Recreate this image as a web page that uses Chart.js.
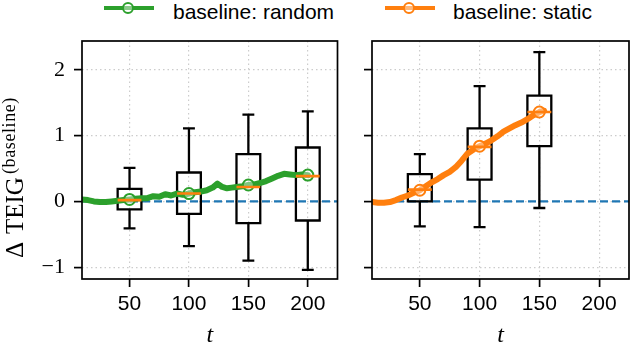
<!DOCTYPE html>
<html>
<head>
<meta charset="utf-8">
<script src="https://cdn.jsdelivr.net/npm/chart.js@4.4.0/dist/chart.umd.min.js"></script>
<style>
  body { margin: 0; background: #fff; width: 630px; height: 344px; overflow: hidden; position: relative; }
  canvas { position: absolute; top: 0; }
  #left { left: 0; }
  #right { left: 345px; }
  .leg-line { position: absolute; top: 6px; width: 50px; height: 3.5px; }
  .leg-dot { position: absolute; top: 2px; width: 8px; height: 8px; border-radius: 50%; border: 2px solid; background: rgba(255,255,255,0.45); }
  .leg-text { position: absolute; top: 1px; font: 21px "Liberation Sans", sans-serif; line-height: 21px; color: #000; white-space: nowrap; }
</style>
</head>
<body>
<div class="leg-line" style="left:104px;background:#2ca02c"></div>
<div class="leg-dot" style="left:122px;border-color:#2ca02c"></div>
<div class="leg-text" style="left:173px">baseline: random</div>
<div class="leg-line" style="left:385px;background:#ff7f0e"></div>
<div class="leg-dot" style="left:403px;border-color:#ff7f0e"></div>
<div class="leg-text" style="left:453px">baseline: static</div>

<canvas id="left" width="345" height="344"></canvas>
<canvas id="right" width="285" height="344"></canvas>

<script>
// axis ticks
const xTicks = [50, 100, 150, 200];
const yTicks = [-1, 0, 1, 2];
const markT = [50, 100, 150, 200]; // markers on the running lines

// baseline: random (running mean over t)
const tRandom = [10, 15, 20, 25, 30, 35, 40, 45, 50, 55, 60, 65, 70, 75, 80, 85, 90, 95, 100, 105,
  110, 115, 120, 124, 128, 132, 136, 140, 145, 150, 155, 160, 165, 170, 175, 180, 185, 190, 195, 200];
const vRandom = [0.03, 0.02, 0.0, -0.01, -0.01, 0.0, 0.01, 0.02, 0.03, 0.04, 0.05, 0.05, 0.08, 0.07, 0.11, 0.09, 0.12, 0.1, 0.12, 0.14,
  0.15, 0.17, 0.21, 0.27, 0.22, 0.2, 0.21, 0.22, 0.23, 0.25, 0.26, 0.28, 0.31, 0.35, 0.39, 0.42, 0.41, 0.4, 0.41, 0.4];

// baseline: static
const tStatic = [10, 15, 20, 25, 30, 35, 40, 45, 50, 55, 60, 65, 70, 75, 80, 85, 90, 95, 100, 105,
  110, 115, 120, 125, 130, 135, 140, 145, 150, 154];
const vStatic = [-0.01, -0.02, -0.02, -0.01, 0.02, 0.06, 0.09, 0.13, 0.17, 0.23, 0.29, 0.34, 0.4, 0.45, 0.52, 0.62, 0.73, 0.79, 0.84, 0.88,
  0.93, 0.99, 1.06, 1.11, 1.16, 1.2, 1.25, 1.31, 1.36, 1.38];

// box plots, random
const randT = [50, 100, 150, 200];
const randMin = [-0.41, -0.68, -0.90, -1.04];
const randQ1 = [-0.12, -0.19, -0.33, -0.29];
const randMed = [0.02, 0.12, 0.22, 0.385];
const randQ3 = [0.19, 0.44, 0.72, 0.82];
const randMax = [0.51, 1.11, 1.32, 1.37];

// box plots, static
const statT = [50, 100, 150];
const statMin = [-0.38, -0.39, -0.10];
const statQ1 = [0.0, 0.33, 0.84];
const statMed = [0.18, 0.83, 1.36];
const statQ3 = [0.415, 1.11, 1.61];
const statMax = [0.72, 1.755, 2.27];

const refLevel = 0;

const X_MIN = 10, X_MAX = 225, Y_MIN = -1.18, Y_MAX = 2.44;
const BOX_HALF = 10, CAP_HALF = 5;
const GREEN = '#2ca02c', ORANGE = '#ff7f0e', BLUE = '#1f77b4';

function boxDatasets(ts, mins, q1s, meds, q3s, maxs) {
  const box = [], whisk = [], med = [];
  ts.forEach((t, i) => {
    box.push({x: t - BOX_HALF, y: q1s[i]}, {x: t + BOX_HALF, y: q1s[i]}, {x: t + BOX_HALF, y: q3s[i]},
             {x: t - BOX_HALF, y: q3s[i]}, {x: t - BOX_HALF, y: q1s[i]}, {x: t, y: null});
    whisk.push({x: t, y: q3s[i]}, {x: t, y: maxs[i]}, {x: t, y: null},
               {x: t, y: q1s[i]}, {x: t, y: mins[i]}, {x: t, y: null},
               {x: t - CAP_HALF, y: maxs[i]}, {x: t + CAP_HALF, y: maxs[i]}, {x: t, y: null},
               {x: t - CAP_HALF, y: mins[i]}, {x: t + CAP_HALF, y: mins[i]}, {x: t, y: null});
    med.push({x: t - BOX_HALF, y: meds[i]}, {x: t + BOX_HALF, y: meds[i]}, {x: t, y: null});
  });
  const base = {pointRadius: 0, borderWidth: 2.3, borderColor: '#000', fill: false, tension: 0, spanGaps: false};
  return [
    Object.assign({}, base, {data: box, order: 2, borderJoinStyle: 'miter', borderCapStyle: 'square'}),
    Object.assign({}, base, {data: whisk, order: 2}),
    Object.assign({}, base, {data: med, order: 0, borderColor: ORANGE, borderWidth: 2.6})
  ];
}

function runLine(ts, vs, color) {
  return {
    data: ts.map((t, i) => ({x: t, y: vs[i]})),
    borderColor: color,
    borderWidth: 6,
    borderJoinStyle: 'round',
    borderCapStyle: 'round',
    tension: 0,
    pointRadius: c => (c.raw && markT.includes(c.raw.x)) ? 5.5 : 0,
    pointBorderWidth: 2,
    pointBorderColor: color,
    pointBackgroundColor: 'rgba(255,255,255,0.4)',
    order: 1
  };
}

function refLine() {
  return {
    data: [{x: X_MIN, y: refLevel}, {x: X_MAX, y: refLevel}],
    borderColor: BLUE, borderWidth: 2.3, borderDash: [8, 4], pointRadius: 0, order: 3
  };
}

const frame = {
  id: 'frame',
  afterDatasetsDraw(chart) {
    const {ctx, chartArea: a} = chart;
    ctx.save();
    ctx.strokeStyle = '#000';
    ctx.lineWidth = 1.7;
    ctx.strokeRect(a.left, a.top, a.right - a.left, a.bottom - a.top);
    ctx.restore();
  }
};

const titles = {
  id: 'titles',
  afterDraw(chart, args, opts) {
    const {ctx, chartArea: a} = chart;
    ctx.save();
    ctx.fillStyle = '#000';
    ctx.textAlign = 'center';
    ctx.textBaseline = 'alphabetic';
    ctx.font = 'italic 24px "Liberation Serif"';
    ctx.fillText('t', (a.left + a.right) / 2, 342);
    if (opts.yTitle) {
      ctx.translate(23, 258);
      ctx.rotate(-Math.PI / 2);
      ctx.textAlign = 'left';
      ctx.font = '25px "Liberation Serif"';
      ctx.fillText('\u0394', 0, 0);
      ctx.fillText('TEIG', 24, 0);
      ctx.font = '18px "Liberation Serif"';
      ctx.letterSpacing = '0.6px';
      ctx.fillText('(baseline)', 84, -8);
    }
    ctx.restore();
  }
};

function makeChart(id, datasets, yLabels, yWidth, padRight) {
  return new Chart(document.getElementById(id), {
    type: 'line',
    data: {datasets},
    options: {
      responsive: false,
      animation: false,
      events: [],
      layout: {padding: {top: 41, right: padRight, left: 0, bottom: 0}},
      plugins: {legend: {display: false}, tooltip: {enabled: false}, titles: {yTitle: yLabels}},
      scales: {
        x: {
          type: 'linear', min: X_MIN, max: X_MAX,
          afterBuildTicks: s => { s.ticks = xTicks.map(v => ({value: v})); },
          afterFit: s => { s.height = 65; },
          grid: {color: '#cccccc', lineWidth: 1.2, tickColor: '#000', tickWidth: 1.7, tickLength: 8, tickBorderDash: []},
          border: {display: false, dash: [1.5, 3]},
          ticks: {font: {family: 'Liberation Sans', size: 21}, color: '#000', padding: 5, maxRotation: 0}
        },
        y: {
          type: 'linear', min: Y_MIN, max: Y_MAX,
          afterBuildTicks: s => { s.ticks = yTicks.map(v => ({value: v})); },
          afterFit: s => { s.width = yWidth; },
          grid: {color: '#cccccc', lineWidth: 1.2, tickColor: '#000', tickWidth: 1.7, tickLength: 8, tickBorderDash: []},
          border: {display: false, dash: [1.5, 3]},
          ticks: {
            display: yLabels,
            font: {family: 'Liberation Serif', size: 22}, color: '#000', padding: 9,
            callback: v => v < 0 ? '\u2212' + Math.abs(v) : String(v)
          }
        }
      }
    },
    plugins: [frame, titles]
  });
}

makeChart('left',
  [refLine(), runLine(tRandom, vRandom, GREEN)].concat(boxDatasets(randT, randMin, randQ1, randMed, randQ3, randMax)),
  true, 82, 6);
makeChart('right',
  [refLine(), runLine(tStatic, vStatic, ORANGE)].concat(boxDatasets(statT, statMin, statQ1, statMed, statQ3, statMax)),
  false, 27, 1);
</script>
</body>
</html>
